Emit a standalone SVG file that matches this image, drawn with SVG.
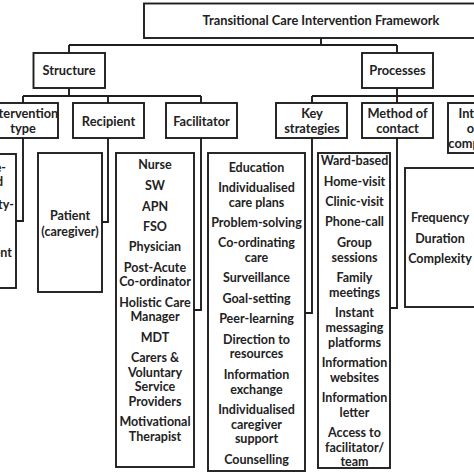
<svg xmlns="http://www.w3.org/2000/svg" width="474" height="474" viewBox="0 0 474 474">
<style>
.b{fill:#fff;stroke:#1e1e1e;stroke-width:1.9}
.c{fill:none;stroke:#1e1e1e;stroke-width:1.9}
text{font-family:Lato,"Liberation Sans",Arial,sans-serif;font-weight:bold;fill:#222;text-anchor:middle}
.h{font-size:12.8px}
.l{font-size:12.5px}
.e{text-anchor:end}
</style>
<rect width="474" height="474" fill="#fff"/>
<g id="connectors">
<path class="c" d="M321,38V45M69,45H397M69,45V53M397,45V53"/>
<path class="c" d="M69,88V96M23,96H201M23,96V103M108,96V103M201,96V103"/>
<path class="c" d="M397,88V96M312,96H483M312,96V103M397,96V103M483,96V103"/>
<path class="c" d="M23,138V221H16M108,138V222H102M201,138V310H194M312,138V313H305M397,138V308H390"/>
</g>
<g id="root"><rect class="b" x="144" y="3.5" width="345" height="34.5"/><text class="h" x="321" y="24.5" font-size="12.5">Transitional Care Intervention Framework</text></g>
<g id="structure"><rect class="b" x="33.5" y="53" width="71.5" height="35"/><text class="h" x="69" y="75">Structure</text></g>
<g id="processes"><rect class="b" x="362" y="53" width="71" height="35"/><text class="h" x="397.5" y="75">Processes</text></g>
<g id="intervention-type"><rect class="b" x="-12" y="103" width="70" height="35"/><text class="h" x="23" y="117.5">Intervention</text><text class="h" x="23" y="132.5">type</text></g>
<g id="recipient"><rect class="b" x="73" y="103" width="71" height="35"/><text class="h" x="108.5" y="125.5">Recipient</text></g>
<g id="facilitator"><rect class="b" x="166" y="103" width="71" height="35"/><text class="h" x="201.5" y="125.5">Facilitator</text></g>
<g id="key-strategies"><rect class="b" x="276" y="103" width="71" height="35"/><text class="h" x="312" y="117.5">Key</text><text class="h" x="312" y="132.5">strategies</text></g>
<g id="method-of-contact"><rect class="b" x="362" y="103" width="71" height="35"/><text class="h" x="397.5" y="117.5">Method of</text><text class="h" x="397.5" y="132.5">contact</text></g>
<g id="intensity"><rect class="b" x="448" y="103" width="71" height="50"/><text class="h" x="483.5" y="117.5">Intensity</text><text class="h" x="483.5" y="132.5">of the</text><text class="h" x="483.5" y="147.5">components</text></g>
<g id="type-list"><rect class="b" x="-60" y="154" width="76" height="134"/>
<text class="l e" x="6" y="172">Single-</text><text class="l e" x="3" y="186">based</text><text class="l e" x="14" y="209">Community-</text><text class="l e" x="12" y="257">Multi-component</text></g>
<g id="recipient-list"><rect class="b" x="38" y="153" width="64" height="139"/><text class="l" x="70" y="219.5">Patient</text><text class="l" x="70" y="235.5">(caregiver)</text></g>
<g id="facilitator-list"><rect class="b" x="116" y="153" width="78" height="314"/>
<text class="l" x="155" y="168.5">Nurse</text>
<text class="l" x="155" y="189.5">SW</text>
<text class="l" x="155" y="210.5">APN</text>
<text class="l" x="155" y="230.5">FSO</text>
<text class="l" x="155" y="250.5">Physician</text>
<text class="l" x="155" y="271.5">Post-Acute</text>
<text class="l" x="155" y="285.5">Co-ordinator</text>
<text class="l" x="155" y="306.5">Holistic Care</text>
<text class="l" x="155" y="320.5">Manager</text>
<text class="l" x="155" y="341.5">MDT</text>
<text class="l" x="155" y="361.5">Carers &amp;</text>
<text class="l" x="155" y="376.5">Voluntary</text>
<text class="l" x="155" y="390.5">Service</text>
<text class="l" x="155" y="405.5">Providers</text>
<text class="l" x="155" y="425.5">Motivational</text>
<text class="l" x="155" y="440.5">Therapist</text>
</g>
<g id="strategies-list"><rect class="b" x="208" y="153" width="97" height="318"/>
<text class="l" x="256.5" y="171.5">Education</text>
<text class="l" x="256.5" y="191.5">Individualised</text>
<text class="l" x="256.5" y="206.5">care plans</text>
<text class="l" x="256.5" y="226.5">Problem-solving</text>
<text class="l" x="256.5" y="246.5">Co-ordinating</text>
<text class="l" x="256.5" y="261.5">care</text>
<text class="l" x="256.5" y="281.5">Surveillance</text>
<text class="l" x="256.5" y="302.5">Goal-setting</text>
<text class="l" x="256.5" y="322.5">Peer-learning</text>
<text class="l" x="256.5" y="343.5">Direction to</text>
<text class="l" x="256.5" y="357.5">resources</text>
<text class="l" x="256.5" y="378.5">Information</text>
<text class="l" x="256.5" y="393.5">exchange</text>
<text class="l" x="256.5" y="413.5">Individualised</text>
<text class="l" x="256.5" y="428.5">caregiver</text>
<text class="l" x="256.5" y="442.5">support</text>
<text class="l" x="256.5" y="463.5">Counselling</text>
</g>
<g id="contact-list"><rect class="b" x="318" y="153" width="72" height="315"/>
<text class="l" x="354.5" y="164.5">Ward-based</text>
<text class="l" x="354.5" y="185.5">Home-visit</text>
<text class="l" x="354.5" y="205.5">Clinic-visit</text>
<text class="l" x="354.5" y="225.5">Phone-call</text>
<text class="l" x="354.5" y="246.5">Group</text>
<text class="l" x="354.5" y="261.5">sessions</text>
<text class="l" x="354.5" y="281.5">Family</text>
<text class="l" x="354.5" y="296.5">meetings</text>
<text class="l" x="354.5" y="316.5">Instant</text>
<text class="l" x="354.5" y="331.5">messaging</text>
<text class="l" x="354.5" y="346.5">platforms</text>
<text class="l" x="354.5" y="366.5">Information</text>
<text class="l" x="354.5" y="381.5">websites</text>
<text class="l" x="354.5" y="401.5">Information</text>
<text class="l" x="354.5" y="416.5">letter</text>
<text class="l" x="354.5" y="436.5">Access to</text>
<text class="l" x="354.5" y="451.5">facilitator/</text>
<text class="l" x="354.5" y="466">team</text>
</g>
<g id="intensity-list"><rect class="b" x="405" y="168" width="90" height="139"/>
<text class="l" x="440" y="221.5">Frequency</text>
<text class="l" x="440" y="242.5">Duration</text>
<text class="l" x="440" y="262.5">Complexity</text>
</g>
</svg>
